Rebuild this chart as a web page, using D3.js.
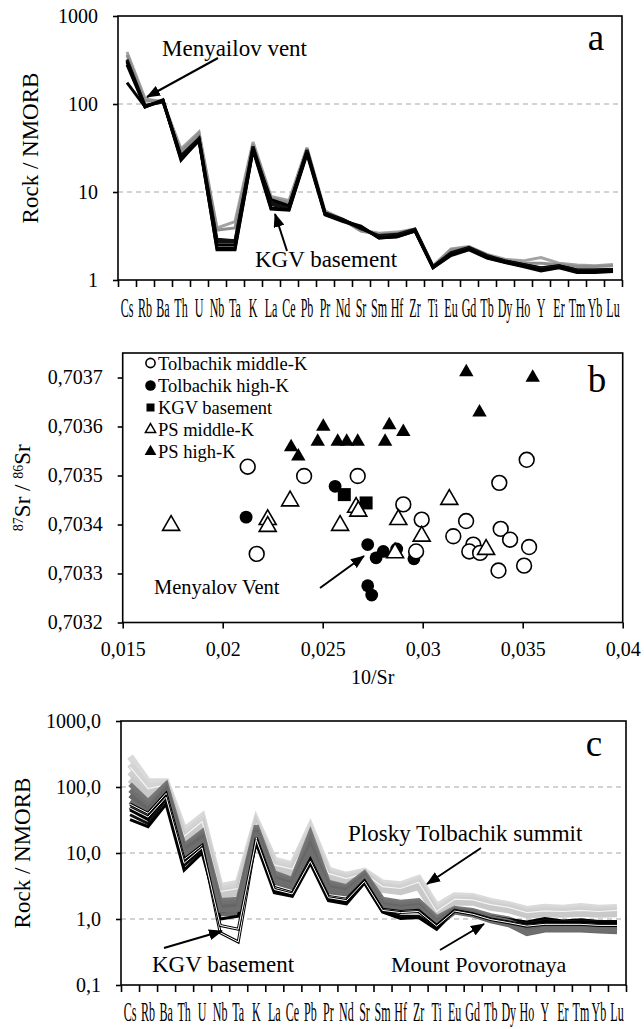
<!DOCTYPE html>
<html>
<head>
<meta charset="utf-8">
<script src="https://cdn.jsdelivr.net/npm/d3@7"></script>
<style>
  body { margin: 0; background: #fff; }
  svg { display: block; }
</style>
</head>
<body>
<svg id="fig" width="644" height="1029" font-family="'Liberation Serif', 'DejaVu Serif', serif"></svg>
<script>
// ---------- shared element order (Rock / NMORB spider diagrams) ----------
const elements = ["Cs","Rb","Ba","Th","U","Nb","Ta","K","La","Ce","Pb","Pr","Nd","Sr",
                  "Sm","Hf","Zr","Ti","Eu","Gd","Tb","Dy","Ho","Y","Er","Tm","Yb","Lu"];
const SERIF = "'Liberation Serif', 'DejaVu Serif', serif";

// ---------- panel a: Menyailov vent and KGV basement ----------
const aTicks = [1, 10, 100, 1000];
const aGrid = [10, 100];
const aGrey1 = [390,115,105,31,48,3.9,4.6,37,8.9,8.0,32,6.1,4.9,3.7,3.4,3.5,3.8,1.45,2.25,2.4,1.95,1.72,1.65,1.8,1.55,1.48,1.45,1.5];
const aGrey2 = [360,108,108,29,46,3.7,3.9,35,8.5,7.6,31,5.9,4.8,3.6,3.3,3.4,3.7,1.42,2.2,2.35,1.9,1.68,1.55,1.55,1.5,1.42,1.42,1.45];
const aBlack1 = [320,95,108,24,40,2.7,2.7,32,7.2,6.5,29,5.8,4.8,4.0,3.1,3.2,3.7,1.42,2.0,2.3,1.85,1.62,1.48,1.35,1.42,1.28,1.28,1.3];
const aBlack2 = [300,92,110,23,39,2.5,2.5,31,6.6,6.3,28,5.6,4.7,4.1,3.0,3.1,3.6,1.38,1.95,2.25,1.8,1.6,1.45,1.3,1.4,1.25,1.25,1.28];
const aBlack3 = [280,93,112,24,38,2.3,2.3,30,6.4,6.2,27,5.5,4.6,4.0,3.0,3.1,3.6,1.38,1.9,2.2,1.78,1.58,1.42,1.27,1.38,1.22,1.22,1.25];
const aBlack4 = [175,93,110,25,40,2.2,2.2,30,8.2,7.0,29,5.8,4.9,3.9,3.1,3.2,3.7,1.4,2.0,2.3,1.85,1.65,1.5,1.38,1.45,1.3,1.3,1.32];
const aBlack5 = [310,96,105,26,41,2.9,2.8,33,7.6,6.8,30,5.7,4.8,3.8,3.2,3.3,3.8,1.42,2.05,2.35,1.9,1.65,1.5,1.36,1.45,1.3,1.3,1.32];

// ---------- panel b: 87Sr/86Sr vs 10/Sr ----------
const bXTicks = [0.015, 0.02, 0.025, 0.03, 0.035, 0.04];
const bYTicks = [0.7032, 0.7033, 0.7034, 0.7035, 0.7036, 0.7037];
const tolbMidX = [0.02125,0.0217,0.02407,0.02675,0.02903,0.02995,0.02967,0.03153,0.03217,0.03253,0.03233,0.03287,0.0339,0.03383,0.03437,0.0352,0.03532,0.03507,0.03379];
const tolbMidY = [0.703518,0.70334,0.703499,0.703499,0.703441,0.70341,0.703345,0.703376,0.703407,0.703359,0.703345,0.703342,0.703391,0.703485,0.703369,0.703532,0.703354,0.703316,0.703306];
const tolbHighX = [0.02117,0.02562,0.02725,0.02767,0.02803,0.0287,0.02956,0.02725,0.02745];
const tolbHighY = [0.703415,0.703478,0.703359,0.703332,0.703345,0.70335,0.70333,0.703275,0.703256];
const kgvX = [0.02608,0.02717];
const kgvY = [0.703461,0.703444];
const psMidX = [0.01742,0.02225,0.02225,0.02337,0.02587,0.02667,0.02678,0.02878,0.02862,0.02995,0.03133,0.03317];
const psMidY = [0.703398,0.70341,0.703396,0.703448,0.703398,0.703435,0.703427,0.70341,0.703342,0.703376,0.703451,0.703349];
const psHighX = [0.02342,0.02378,0.02475,0.02503,0.02575,0.0262,0.02675,0.02812,0.02833,0.02903,0.03218,0.0355,0.03284];
const psHighY = [0.703558,0.703539,0.703569,0.7036,0.703569,0.703569,0.703569,0.703569,0.703603,0.703589,0.703711,0.7037,0.703629];

// ---------- panel c: Tolbachik lavas, Plosky Tolbachik summit, Mount Povorotnaya ----------
const cTicks = [0.1, 1, 10, 100, 1000];
const cGrid = [1, 10, 100];
const cSummit1 = [290,120,120,22,36,3.1,3.5,31,7.8,6.6,25,5.5,4.6,5.3,3.5,3.3,4.1,1.55,2.25,2.2,1.85,1.65,1.4,1.5,1.45,1.55,1.45,1.5];
const cSummit2 = [220,100,110,19,32,2.8,3.1,28,7.0,6.0,22,5.1,4.3,5.0,3.2,3.0,3.7,1.35,2.05,2.05,1.7,1.55,1.3,1.38,1.35,1.4,1.35,1.4];
const cSummit3 = [170,85,105,17,28,2.5,2.8,26,6.3,5.4,19,4.7,4.0,4.8,3.0,2.8,3.4,1.25,1.9,1.9,1.6,1.45,1.22,1.28,1.25,1.3,1.25,1.3];
const cSummit4 = [130,75,100,15,25,2.3,2.5,24,5.8,5.0,17,4.4,3.7,4.6,2.8,2.6,3.1,1.15,1.8,1.8,1.5,1.38,1.15,1.2,1.18,1.22,1.18,1.2];
const cSummitThin = [200,95,108,18,30,2.6,2.9,27,6.6,5.7,20,4.9,4.1,4.9,3.1,2.9,3.6,1.3,2.0,1.95,1.65,1.5,1.25,1.33,1.3,1.35,1.3,1.35];
const cPov1 = [110,60,110,13,21,1.9,2.0,26,5.0,4.0,20,3.6,3.1,5.0,2.0,1.8,1.9,1.05,1.45,1.35,1.12,1.0,0.8,0.85,0.85,0.85,0.82,0.8];
const cPov2 = [90,52,100,12,19,1.7,1.8,24,4.5,3.7,16,3.3,2.9,4.7,1.8,1.65,1.75,0.95,1.4,1.28,1.05,0.92,0.72,0.78,0.78,0.78,0.75,0.74];
const cPov3 = [75,45,90,11,17,1.5,1.6,22,4.1,3.4,13,3.0,2.7,4.4,1.65,1.5,1.6,0.9,1.35,1.22,1.0,0.87,0.66,0.74,0.74,0.74,0.72,0.7];
const cPov4 = [60,40,80,10,15,1.35,1.4,20,3.8,3.2,11,2.8,2.5,4.2,1.55,1.42,1.5,0.85,1.3,1.18,0.96,0.84,0.62,0.7,0.7,0.7,0.68,0.66];
const cPov5 = [50,35,75,9,13,1.2,1.2,19,3.6,3.0,10,2.6,2.4,4.0,1.5,1.38,1.45,0.8,1.28,1.15,0.94,0.82,0.6,0.68,0.68,0.68,0.66,0.64];
const cTolb1 = [45,32,75,7.5,12.5,1.5,1.7,18,2.9,2.4,8,2.1,1.9,3.8,1.35,1.1,1.1,0.75,1.38,1.25,1.08,0.98,0.9,1.02,0.93,0.97,0.92,0.92];
const cTolb2 = [38,28,65,6.5,11,1.3,1.4,16,2.7,2.3,7.5,2.0,1.8,3.6,1.3,1.05,1.08,0.72,1.35,1.22,1.05,0.95,0.85,0.95,0.9,0.93,0.9,0.9];
const cTolb3 = [32,25,55,5.5,10,1.0,1.1,14,2.5,2.2,7,1.9,1.7,3.5,1.28,1.02,1.05,0.7,1.32,1.2,1.02,0.92,0.82,0.92,0.88,0.9,0.88,0.88];
const cKgv1 = [55,40,80,8,13,0.62,0.45,17,3.0,2.5,8,2.2,2.0,3.8,1.4,1.3,1.35,0.8,1.35,1.2,1.0,0.9,0.8,0.85,0.85,0.85,0.82,0.82];
const cKgv2 = [48,35,70,7,12,0.8,0.7,16,2.8,2.4,7.5,2.1,1.9,3.7,1.35,1.25,1.3,0.78,1.32,1.18,0.98,0.88,0.78,0.83,0.83,0.83,0.8,0.8];

// ---------- drawing ----------
const svg = d3.select("#fig");
svg.append("rect").attr("width", 644).attr("height", 1029).attr("fill", "#fff");

const defs = svg.append("defs");
defs.append("marker")
  .attr("id", "arrowhead")
  .attr("viewBox", "0 0 14 11")
  .attr("refX", 13).attr("refY", 5.5)
  .attr("markerWidth", 14).attr("markerHeight", 11)
  .attr("markerUnits", "userSpaceOnUse")
  .attr("orient", "auto")
  .append("path").attr("d", "M0,0 L14,5.5 L0,11 Z").attr("fill", "#000");

function arrow(g, x1, y1, x2, y2) {
  g.append("line")
    .attr("x1", x1).attr("y1", y1).attr("x2", x2).attr("y2", y2)
    .attr("stroke", "#000").attr("stroke-width", 2)
    .attr("marker-end", "url(#arrowhead)");
}
function label(g, x, y, txt, size, anchor) {
  return g.append("text").attr("x", x).attr("y", y)
    .attr("font-family", SERIF).attr("fill", "#000")
    .attr("font-size", size).attr("text-anchor", anchor || "start").text(txt);
}
function styleAxis(sel, size) {
  sel.attr("font-family", SERIF);
  sel.select(".domain").remove();
  sel.selectAll("line").attr("stroke-width", 1.6);
  sel.selectAll("text").attr("font-size", size).attr("font-family", SERIF).attr("fill", "#000");
}

// spider-diagram frame: log y axis, band x axis with tick marks at band edges
function spiderPanel(opt) {
  const g = svg.append("g");
  const x = d3.scaleBand().domain(elements).range([opt.left, opt.right]);
  const y = d3.scaleLog().domain(opt.domain).range([opt.bottom, opt.top]);

  g.selectAll(".grid").data(opt.grid).join("line")
    .attr("x1", opt.left).attr("x2", opt.right)
    .attr("y1", d => y(d)).attr("y2", d => y(d))
    .attr("stroke", "#a6a6a6").attr("stroke-width", 1.2).attr("stroke-dasharray", "5,4");

  const line = d3.line().x((d, i) => x(elements[i]) + x.bandwidth() / 2).y(d => y(d));
  opt.series.forEach(s => {
    g.append("path").datum(s.values).attr("d", line)
      .attr("fill", "none").attr("stroke", s.color).attr("stroke-width", s.width)
      .attr("stroke-linejoin", "miter").attr("stroke-miterlimit", 3);
  });

  g.append("rect").attr("x", opt.left).attr("y", opt.top)
    .attr("width", opt.right - opt.left).attr("height", opt.bottom - opt.top)
    .attr("fill", "none").attr("stroke", "#000").attr("stroke-width", 1.6);

  const yAxis = g.append("g").attr("transform", `translate(${opt.left},0)`)
    .call(d3.axisLeft(y).tickValues(opt.ticks).tickSize(5).tickPadding(15).tickFormat(opt.fmt));
  styleAxis(yAxis, 20);

  const edge = d3.scaleLinear().domain([0, elements.length]).range([opt.left, opt.right]);
  const xEdges = g.append("g").attr("transform", `translate(0,${opt.bottom})`)
    .call(d3.axisBottom(edge).tickValues(d3.range(elements.length + 1)).tickSize(7).tickFormat(""));
  styleAxis(xEdges, 10);

  // element names: tall serif squeezed horizontally to fit one band each
  const xAxis = g.append("g").attr("transform", `translate(0,${opt.bottom})`)
    .call(d3.axisBottom(x).tickSize(0).tickPadding(opt.labelPad));
  styleAxis(xAxis, 28);
  xAxis.selectAll("text").attr("transform", "scale(0.43,1)");

  g.append("text")
    .attr("transform", `translate(${opt.titleX},${(opt.top + opt.bottom) / 2}) rotate(-90)`)
    .attr("font-family", SERIF)
    .attr("text-anchor", "middle").attr("font-size", 23).text("Rock / NMORB");

  label(g, opt.letterX, opt.letterY, opt.letter, 37, "middle");
  return { g, x, y };
}

// ----- panel a -----
const pa = spiderPanel({
  left: 118, right: 622, top: 16, bottom: 280,
  domain: [1, 1000], ticks: aTicks, grid: aGrid, fmt: d => String(d),
  labelPad: 17, titleX: 38, letter: "a", letterX: 596, letterY: 50,
  series: [
    { values: aGrey1, color: "#a3a3a3", width: 3 },
    { values: aGrey2, color: "#8f8f8f", width: 3 },
    { values: aBlack5, color: "#111", width: 3 },
    { values: aBlack4, color: "#000", width: 3 },
    { values: aBlack1, color: "#111", width: 3 },
    { values: aBlack2, color: "#000", width: 3 },
    { values: aBlack3, color: "#000", width: 3 }
  ]
});
label(pa.g, 162, 56, "Menyailov vent", 23);
arrow(pa.g, 218, 58, 147, 97);
label(pa.g, 255, 267, "KGV basement", 23);
arrow(pa.g, 287, 251, 275, 214);

// ----- panel b -----
(function () {
  const left = 122.7, right = 622.7, top = 353, bottom = 622.5;
  const g = svg.append("g");
  const x = d3.scaleLinear().domain([0.015, 0.04]).range([left, right]);
  const y = d3.scaleLinear().domain([0.7032, 0.70375]).range([bottom, top]);
  const comma = d => String(d).replace(".", ",");

  g.append("rect").attr("x", left).attr("y", top)
    .attr("width", right - left).attr("height", bottom - top)
    .attr("fill", "none").attr("stroke", "#000").attr("stroke-width", 1.6);

  const xAxis = g.append("g").attr("transform", `translate(0,${bottom})`)
    .call(d3.axisBottom(x).tickValues(bXTicks).tickSize(6).tickPadding(13).tickFormat(comma));
  styleAxis(xAxis, 20);

  const yAxis = g.append("g").attr("transform", `translate(${left},0)`)
    .call(d3.axisLeft(y).tickValues(bYTicks).tickSize(5).tickPadding(15).tickFormat(d => d.toFixed(4).replace(".", ",")));
  styleAxis(yAxis, 20);

  label(g, (left + right) / 2, 684, "10/Sr", 20, "middle");
  const yt = g.append("text")
    .attr("transform", `translate(30,${(top + bottom) / 2}) rotate(-90)`)
    .attr("font-family", SERIF)
    .attr("text-anchor", "middle").attr("font-size", 23);
  yt.append("tspan").attr("font-size", 14).attr("baseline-shift", "super").text("87");
  yt.append("tspan").text("Sr / ");
  yt.append("tspan").attr("font-size", 14).attr("baseline-shift", "super").text("86");
  yt.append("tspan").text("Sr");

  const tri = (size) => d3.symbol(d3.symbolTriangle, size)();

  // Tolbachik high-K
  g.selectAll(".thk").data(d3.range(tolbHighX.length)).join("circle")
    .attr("cx", i => x(tolbHighX[i])).attr("cy", i => y(tolbHighY[i])).attr("r", 6.4)
    .attr("fill", "#000");
  // KGV basement
  g.selectAll(".kgv").data(d3.range(kgvX.length)).join("rect")
    .attr("x", i => x(kgvX[i]) - 6.5).attr("y", i => y(kgvY[i]) - 6.5)
    .attr("width", 13).attr("height", 13).attr("fill", "#000");
  // Tolbachik middle-K
  g.selectAll(".tmk").data(d3.range(tolbMidX.length)).join("circle")
    .attr("cx", i => x(tolbMidX[i])).attr("cy", i => y(tolbMidY[i])).attr("r", 7.4)
    .attr("fill", "#fff").attr("stroke", "#000").attr("stroke-width", 1.6);
  // PS middle-K
  g.selectAll(".pmk").data(d3.range(psMidX.length)).join("path")
    .attr("d", tri(125))
    .attr("transform", i => `translate(${x(psMidX[i])},${y(psMidY[i])})`)
    .attr("fill", "#fff").attr("stroke", "#000").attr("stroke-width", 1.6);
  // PS high-K
  g.selectAll(".phk").data(d3.range(psHighX.length)).join("path")
    .attr("d", tri(90))
    .attr("transform", i => `translate(${x(psHighX[i])},${y(psHighY[i])})`)
    .attr("fill", "#000");

  // legend
  const lg = g.append("g");
  const rows = [363, 385.5, 407.5, 429.5, 451.5];
  const lx = 150.5;
  lg.append("circle").attr("cx", lx).attr("cy", rows[0]).attr("r", 4.6)
    .attr("fill", "#fff").attr("stroke", "#000").attr("stroke-width", 1.6);
  lg.append("circle").attr("cx", lx).attr("cy", rows[1]).attr("r", 5.3).attr("fill", "#000");
  lg.append("rect").attr("x", lx - 4).attr("y", rows[2] - 4).attr("width", 8).attr("height", 8).attr("fill", "#000");
  lg.append("path").attr("d", tri(45)).attr("transform", `translate(${lx},${rows[3]})`)
    .attr("fill", "#fff").attr("stroke", "#000").attr("stroke-width", 1.5);
  lg.append("path").attr("d", tri(60)).attr("transform", `translate(${lx},${rows[4]})`).attr("fill", "#000");
  const names = ["Tolbachik middle-K", "Tolbachik high-K", "KGV basement", "PS middle-K", "PS high-K"];
  names.forEach((n, i) => label(lg, 158, rows[i] + 6.5, n, 18.5));

  label(g, 597, 392, "b", 37, "middle");
  label(g, 154, 594, "Menyalov Vent", 20.5);
  arrow(g, 320, 588, 364, 556);
})();

// ----- panel c -----
const pc = spiderPanel({
  left: 121, right: 626, top: 721, bottom: 985,
  domain: [0.1, 1000], ticks: cTicks, grid: cGrid, fmt: d => d.toFixed(1).replace(".", ","),
  labelPad: 16, titleX: 30, letter: "c", letterX: 594, letterY: 756,
  series: [
    { values: cSummit1, color: "#dadada", width: 7 },
    { values: cSummit2, color: "#d4d4d4", width: 7 },
    { values: cSummit3, color: "#cfcfcf", width: 7 },
    { values: cSummit4, color: "#c9c9c9", width: 7 },
    { values: cSummitThin, color: "#f4f4f4", width: 1.2 },
    { values: cPov1, color: "#777", width: 5 },
    { values: cPov5, color: "#6a6a6a", width: 5 },
    { values: cTolb1, color: "#000", width: 3 },
    { values: cTolb2, color: "#111", width: 3 },
    { values: cTolb3, color: "#000", width: 3 },
    { values: cPov2, color: "#707070", width: 5 },
    { values: cPov3, color: "#666", width: 5 },
    { values: cPov4, color: "#6e6e6e", width: 5 },
    { values: cKgv1, color: "#000", width: 3 },
    { values: cKgv1, color: "#fff", width: 1 },
    { values: cKgv2, color: "#000", width: 3 },
    { values: cKgv2, color: "#fff", width: 1 }
  ]
});
label(pc.g, 348, 841, "Plosky Tolbachik summit", 23);
arrow(pc.g, 481, 848, 427, 884);
label(pc.g, 152, 972, "KGV basement", 23);
arrow(pc.g, 164, 948, 222, 931);
label(pc.g, 391, 972, "Mount Povorotnaya", 22);
arrow(pc.g, 440, 950, 484, 924);
</script>
</body>
</html>
